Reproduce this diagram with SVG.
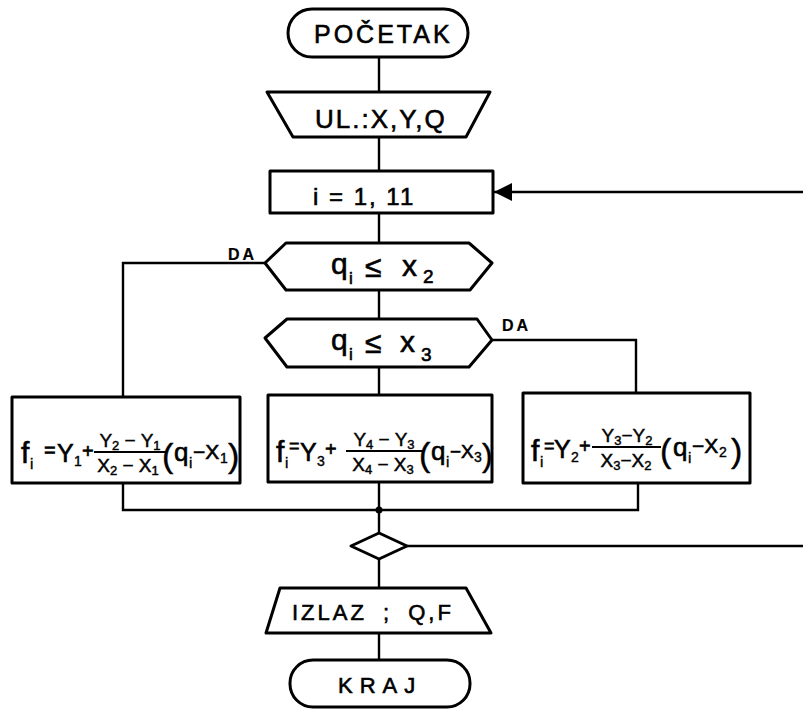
<svg xmlns="http://www.w3.org/2000/svg" width="803" height="710" viewBox="0 0 803 710">
<style>
.bx{fill:#fff;stroke:#000;stroke-width:3;stroke-linejoin:round}
.ln{fill:none;stroke:#000;stroke-width:2.4}
.t{font-family:"Liberation Sans",Arial,sans-serif;fill:#000;stroke:#000;stroke-width:0.6}
.lbl{font-size:24px;letter-spacing:3px}
.da{font-size:16px;letter-spacing:3px;font-weight:bold;stroke-width:0.2}
.dq{font-size:30px}
.f{font-size:30px}
.s{font-size:15px;stroke-width:0.4}
.s2{font-size:14px;stroke-width:0.4}
.m{font-size:25px}
.op{font-size:20px}
.fr{font-size:19px;stroke-width:0.45}
.par{font-size:34px;stroke-width:0.4}
.q{font-size:26px}
.mx{font-size:21px}
</style>
<defs>
<marker id="ah" markerUnits="userSpaceOnUse" markerWidth="19" markerHeight="20" refX="18" refY="10" orient="auto">
<path d="M0,1 L18,10 L0,19 z" fill="#000"/>
</marker>
</defs>
<rect width="803" height="710" fill="#fff"/>
<g id="connectors">
<path class="ln" d="M379,57 V92"/>
<path class="ln" d="M379,137 V171"/>
<path class="ln" d="M379,213 V243"/>
<path class="ln" d="M379,290 V319"/>
<path class="ln" d="M379,367 V395"/>
<path class="ln" d="M265,263 H123 V397"/>
<path class="ln" d="M492,340 H636 V393"/>
<path class="ln" d="M123,483 V510 H638 V483"/>
<path class="ln" d="M379,482 V533"/>
<circle cx="379" cy="510" r="3.5" fill="#000"/>
<path class="ln" d="M379,559 V588"/>
<path class="ln" d="M379,633 V660"/>
<path class="ln" d="M407,546 H803"/>
<path class="ln" d="M803,192 H494" marker-end="url(#ah)"/>
<text class="t da" x="228" y="260">DA</text>
<text class="t da" x="502" y="331">DA</text>
</g>
<g id="start">
<rect class="bx" x="288" y="9" width="180" height="48" rx="24"/>
<text class="t lbl" x="314" y="43" style="font-size:25px">POČETAK</text>
</g>
<g id="input">
<polygon class="bx" points="267,92 490,92 466,137 293,137"/>
<text class="t lbl" x="315" y="128" style="letter-spacing:2px;font-size:26px">UL.:X,Y,Q</text>
</g>
<g id="loop">
<rect class="bx" x="270" y="171" width="223" height="42"/>
<text class="t lbl" x="313" y="205" style="letter-spacing:2px">i = 1, 11</text>
</g>
<g id="dec1">
<polygon class="bx" points="265,263 286,243 469,243 492,263 470,290 286,290"/>
<text class="t dq" x="331" y="274">q</text><text class="t" x="349" y="284" style="font-size:17px">i</text>
<text class="t dq" x="365" y="277">≤</text>
<text class="t dq" x="402" y="276">x</text><text class="t" x="423" y="283" style="font-size:19px">2</text>
</g>
<g id="dec2">
<polygon class="bx" points="265,338 287,319 477,319 492,340 469,367 287,367"/>
<text class="t dq" x="331" y="350">q</text><text class="t" x="349" y="360" style="font-size:17px">i</text>
<text class="t dq" x="365" y="353">≤</text>
<text class="t dq" x="400" y="352">x</text><text class="t" x="421" y="361" style="font-size:19px">3</text>
</g>
<g id="box1">
<rect class="bx" x="12" y="397" width="228" height="86"/>
<text class="t f" x="21" y="463">f</text><text class="t s" x="30" y="469">i</text>
<text class="t op" x="44" y="457">=</text>
<text class="t m" x="57" y="462">Y</text><text class="t s2" x="74" y="466">1</text>
<text class="t op" x="82" y="458">+</text>
<text class="t fr" x="130" y="447" text-anchor="middle">Y<tspan font-size="13" dy="3">2</tspan><tspan dy="-3"> − Y</tspan><tspan font-size="13" dy="3">1</tspan></text>
<path class="ln" d="M94,452 H166" style="stroke-width:1.8"/>
<text class="t fr" x="128" y="472" text-anchor="middle">X<tspan font-size="13" dy="3">2</tspan><tspan dy="-3"> − X</tspan><tspan font-size="13" dy="3">1</tspan></text>
<text class="t par" x="162" y="467">(</text>
<text class="t q" x="174" y="461">q</text><text class="t s" x="189" y="468">i</text>
<text class="t mx" x="193" y="459">−X</text><text class="t s2" x="220" y="463">1</text>
<text class="t par" x="228" y="467">)</text>
</g>
<g id="box2">
<rect class="bx" x="268" y="395" width="224" height="87"/>
<text class="t f" x="276" y="462">f</text><text class="t s" x="285" y="468">i</text>
<text class="t" x="289" y="452" style="font-size:18px">=</text>
<text class="t m" x="300" y="461">Y</text><text class="t s2" x="317" y="466">3</text>
<text class="t op" x="325" y="456">+</text>
<text class="t fr" x="384" y="446" text-anchor="middle">Y<tspan font-size="13" dy="3">4</tspan><tspan dy="-3"> − Y</tspan><tspan font-size="13" dy="3">3</tspan></text>
<path class="ln" d="M346,451 H423" style="stroke-width:1.8"/>
<text class="t fr" x="383" y="471" text-anchor="middle">X<tspan font-size="13" dy="3">4</tspan><tspan dy="-3"> − X</tspan><tspan font-size="13" dy="3">3</tspan></text>
<text class="t par" x="419" y="466">(</text>
<text class="t q" x="431" y="460">q</text><text class="t s" x="446" y="467">i</text>
<text class="t" x="450" y="458" style="font-size:19px">−X</text><text class="t s2" x="474" y="462">3</text>
<text class="t par" x="482" y="466" style="font-size:32px">)</text>
</g>
<g id="box3">
<rect class="bx" x="523" y="393" width="227" height="90"/>
<text class="t f" x="531" y="461">f</text><text class="t s" x="540" y="467">i</text>
<text class="t" x="544" y="452" style="font-size:18px">=</text>
<text class="t m" x="554" y="458">Y</text><text class="t s2" x="571" y="462">2</text>
<text class="t op" x="579" y="453">+</text>
<text class="t fr" x="627" y="442" text-anchor="middle">Y<tspan font-size="13" dy="3">3</tspan><tspan dy="-3">−Y</tspan><tspan font-size="13" dy="3">2</tspan></text>
<path class="ln" d="M592,447 H661" style="stroke-width:1.8"/>
<text class="t fr" x="626" y="467" text-anchor="middle">X<tspan font-size="13" dy="3">3</tspan><tspan dy="-3">−X</tspan><tspan font-size="13" dy="3">2</tspan></text>
<text class="t par" x="660" y="462">(</text>
<text class="t q" x="673" y="456">q</text><text class="t s" x="688" y="463">i</text>
<text class="t mx" x="692" y="453">−X</text><text class="t s2" x="719" y="457">2</text>
<text class="t par" x="731" y="462">)</text>
</g>
<g id="merge">
<polygon class="bx" points="351,546 379,533 407,546 379,559"/>
</g>
<g id="output">
<polygon class="bx" points="280,588 466,588 491,633 266,633"/>
<text class="t lbl" x="292" y="620" style="font-size:22px;letter-spacing:3px;word-spacing:7px">IZLAZ ; Q,F</text>
</g>
<g id="end">
<rect class="bx" x="290" y="660" width="180" height="47" rx="23"/>
<text class="t lbl" x="338" y="693" style="font-size:22px;letter-spacing:7px">KRAJ</text>
</g>
</svg>
